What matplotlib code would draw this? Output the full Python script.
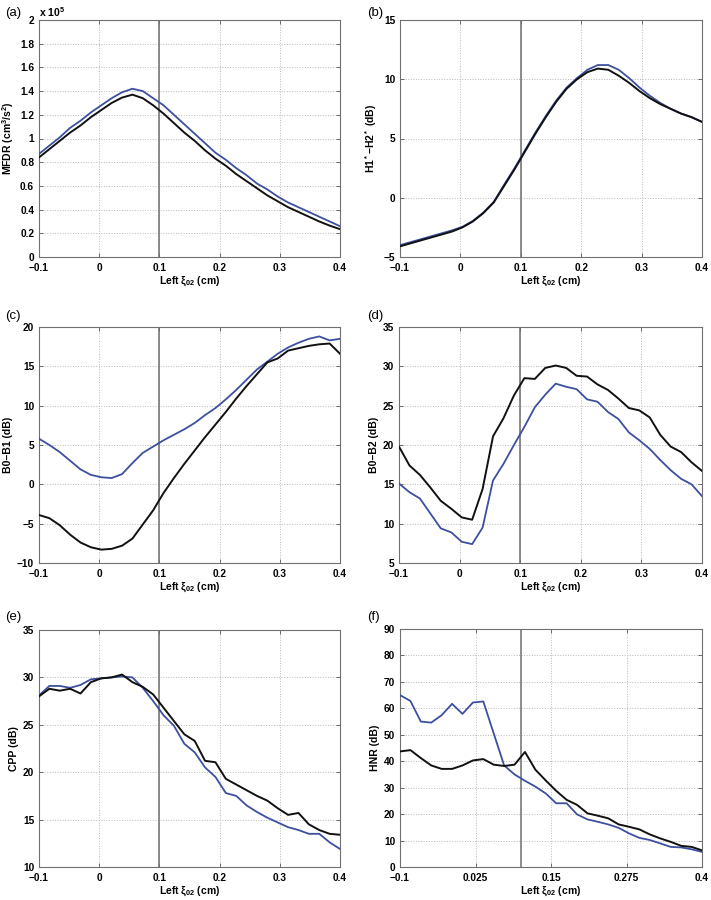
import numpy as np
import matplotlib
matplotlib.use("Agg")
import matplotlib.pyplot as plt
from matplotlib.ticker import FuncFormatter

plt.rcParams['font.family'] = ['Liberation Sans', 'DejaVu Sans']
plt.rcParams['font.weight'] = 'bold'
plt.rcParams['mathtext.fontset'] = 'custom'
plt.rcParams['mathtext.rm'] = 'Liberation Sans:bold'
plt.rcParams['mathtext.bf'] = 'Liberation Sans:bold'
plt.rcParams['mathtext.it'] = 'Liberation Sans:bold'
plt.rcParams['mathtext.default'] = 'bf'

# ---- data ----
xi = np.linspace(-0.1, 0.4, 30)

mfdr_black = [0.84, 0.91, 0.98, 1.05, 1.11, 1.18, 1.24, 1.30, 1.345, 1.37,
              1.34, 1.28, 1.21, 1.13, 1.05, 0.98, 0.90, 0.83, 0.77, 0.70,
              0.64, 0.58, 0.52, 0.47, 0.42, 0.38, 0.34, 0.30, 0.265, 0.235]
mfdr_blue = [0.87, 0.94, 1.01, 1.09, 1.15, 1.22, 1.28, 1.34, 1.39, 1.42,
             1.40, 1.34, 1.28, 1.20, 1.12, 1.04, 0.96, 0.88, 0.82, 0.75,
             0.69, 0.62, 0.57, 0.51, 0.46, 0.42, 0.38, 0.34, 0.30, 0.26]

h1h2_black = [-4.1, -3.85, -3.6, -3.35, -3.1, -2.85, -2.5, -2.0, -1.3, -0.4,
              1.0, 2.4, 3.9, 5.4, 6.8, 8.1, 9.2, 10.0, 10.6, 10.9,
              10.8, 10.3, 9.7, 9.0, 8.4, 7.9, 7.5, 7.1, 6.8, 6.4]
h1h2_blue = [-4.0, -3.75, -3.5, -3.25, -3.0, -2.75, -2.45, -1.95, -1.25, -0.35,
             1.1, 2.5, 4.0, 5.5, 6.9, 8.2, 9.3, 10.1, 10.8, 11.2,
             11.2, 10.8, 10.1, 9.3, 8.6, 8.0, 7.5, 7.1, 6.8, 6.4]

b0b1_black = [-3.9, -4.3, -5.2, -6.4, -7.4, -8.0, -8.3, -8.2, -7.8, -6.9,
              -5.1, -3.3, -1.1, 0.8, 2.6, 4.3, 6.0, 7.6, 9.2, 10.9,
              12.5, 14.0, 15.5, 16.0, 17.0, 17.3, 17.6, 17.8, 17.9, 16.6]
b0b1_blue = [5.8, 5.0, 4.1, 3.0, 1.9, 1.2, 0.9, 0.8, 1.3, 2.7,
             4.0, 4.8, 5.6, 6.3, 7.0, 7.8, 8.8, 9.7, 10.8, 12.0,
             13.3, 14.6, 15.6, 16.6, 17.4, 18.0, 18.5, 18.8, 18.3, 18.5]

b0b2_black = [19.8, 17.4, 16.2, 14.6, 12.9, 11.9, 10.8, 10.5, 14.4, 21.1,
              23.4, 26.3, 28.5, 28.4, 29.8, 30.1, 29.8, 28.8, 28.7, 27.7,
              27.0, 25.9, 24.7, 24.4, 23.5, 21.3, 19.8, 19.1, 17.8, 16.7]
b0b2_blue = [15.1, 14.0, 13.2, 11.3, 9.4, 8.9, 7.7, 7.4, 9.5, 15.5,
             17.6, 20.0, 22.3, 24.8, 26.4, 27.8, 27.4, 27.1, 25.8, 25.5,
             24.2, 23.3, 21.6, 20.6, 19.5, 18.1, 16.8, 15.7, 15.0, 13.5]

cpp_black = [28.0, 28.8, 28.6, 28.8, 28.3, 29.5, 29.9, 30.0, 30.3, 29.5,
             29.0, 28.2, 26.8, 25.4, 24.0, 23.3, 21.2, 21.05, 19.3, 18.7,
             18.1, 17.5, 17.0, 16.2, 15.5, 15.7, 14.5, 13.9, 13.5, 13.4]
cpp_blue = [28.1, 29.1, 29.1, 28.9, 29.2, 29.8, 29.9, 30.0, 30.1, 30.0,
            28.9, 27.5, 26.0, 24.9, 23.0, 22.1, 20.5, 19.5, 17.8, 17.5,
            16.5, 15.8, 15.2, 14.7, 14.2, 13.9, 13.5, 13.5, 12.6, 11.9]

hnr_black = [43.7, 44.2, 41.2, 38.4, 37.1, 37.1, 38.4, 40.3, 40.8, 38.7,
             38.2, 38.7, 43.5, 36.8, 32.7, 28.8, 25.4, 23.5, 20.3, 19.4,
             18.4, 16.1, 15.2, 14.2, 12.3, 10.8, 9.5, 8.0, 7.6, 6.3]
hnr_blue = [65.0, 62.8, 55.0, 54.6, 57.4, 61.7, 57.9, 62.2, 62.6, 50.5,
            38.4, 35.0, 32.6, 30.4, 27.8, 24.1, 24.1, 19.9, 18.0, 17.1,
            16.1, 14.8, 12.7, 11.0, 10.2, 8.9, 7.6, 7.4, 6.7, 5.7]

panel_labels = ['(a)', '(b)', '(c)', '(d)', '(e)', '(f)']
ylabels = ['MFDR (cm$^3$/s$^2$)', 'H1$^*$\u2212H2$^*$ (dB)', 'B0\u2013B1 (dB)',
           'B0\u2013B2 (dB)', 'CPP (dB)', 'HNR (dB)']
xlabel = 'Left \u03be$_{02}$ (cm)'
ylims = [(0, 2), (-5, 15), (-10, 20), (5, 35), (10, 35), (0, 90)]
yticks = [np.arange(0, 2.01, 0.2), np.arange(-5, 16, 5), np.arange(-10, 21, 5),
          np.arange(5, 36, 5), np.arange(10, 36, 5), np.arange(0, 91, 10)]
xticks_std = [-0.1, 0, 0.1, 0.2, 0.3, 0.4]
xticks_f = [-0.1, 0.025, 0.15, 0.275, 0.4]
marker_x = 0.1

series = [(mfdr_black, mfdr_blue), (h1h2_black, h1h2_blue), (b0b1_black, b0b1_blue),
          (b0b2_black, b0b2_blue), (cpp_black, cpp_blue), (hnr_black, hnr_blue)]

# ---- layout (pixels) ----
W, H = 711, 900
boxes = [(39, 20, 340, 257), (400, 20, 702, 257),
         (39, 327, 340, 563), (399, 327, 702, 563),
         (39, 630, 340, 867), (400, 629, 702, 867)]
label_pos = [(5, 13), (367, 13), (5, 316), (367, 316), (5, 617), (367, 617)]

BLUE = '#3d4f9f'
BLACK = '#111111'

def fmt(v, pos):
    s = '%g' % round(v, 4)
    return s.replace('-', '\u2212')

fig = plt.figure(figsize=(W / 100, H / 100), dpi=100)
for i, (l, t, r, b) in enumerate(boxes):
    ax = fig.add_axes([l / W, 1 - b / H, (r - l) / W, (b - t) / H])
    blk, blu = series[i]
    ax.grid(True, linestyle=':', color='#b8b8b8', linewidth=0.7)
    ax.axvline(marker_x, color='#6e6e6e', linewidth=1.1, zorder=2)
    ax.plot(xi, blu, color=BLUE, linewidth=1.3, zorder=3)
    ax.plot(xi, blk, color=BLACK, linewidth=1.4, zorder=4)
    ax.set_xlim(-0.1, 0.4)
    ax.set_ylim(*ylims[i])
    ax.set_yticks(yticks[i])
    ax.set_xticks(xticks_f if i == 5 else xticks_std)
    ax.xaxis.set_major_formatter(FuncFormatter(fmt))
    ax.yaxis.set_major_formatter(FuncFormatter(fmt))
    ax.tick_params(direction='in', length=3, width=0.6, labelsize=7.3,
                   color='#555555', top=True, right=True)
    ax.tick_params(axis='x', pad=4)
    ax.tick_params(axis='y', pad=3.5)
    for lab in ax.get_xticklabels() + ax.get_yticklabels():
        lab.set_fontweight('bold')
    for sp in ax.spines.values():
        sp.set_color('#707070')
        sp.set_linewidth(0.8)
    ax.set_ylabel(ylabels[i], fontsize=7.5, fontweight='bold', labelpad=3)
    ax.set_xlabel(xlabel, fontsize=7.5, fontweight='bold', labelpad=1)
    fx, fy = label_pos[i]
    fig.text(fx / W, 1 - fy / H, panel_labels[i], fontsize=9.5,
             fontweight='normal', va='center', ha='left')
    if i == 0:
        ax.text(0.0, 1.005, 'x 10$^5$', transform=ax.transAxes, fontsize=7.5,
                fontweight='bold', ha='left', va='bottom')

fig.savefig('out.png', dpi=100)
